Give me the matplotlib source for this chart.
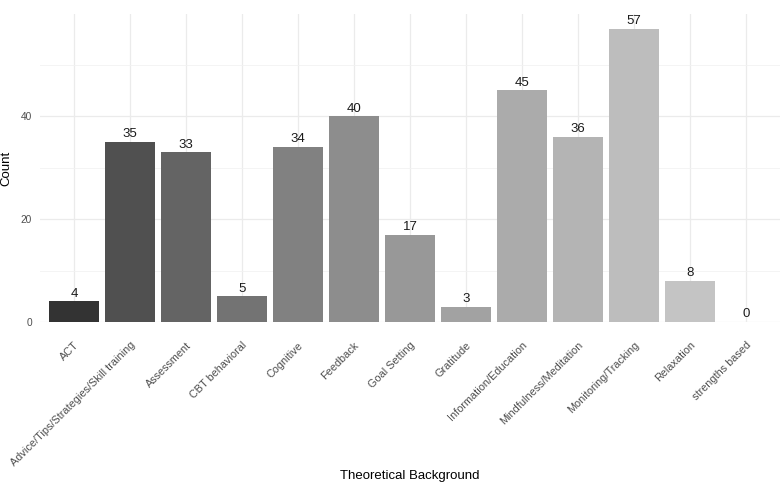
import numpy as np
import matplotlib.pyplot as plt
from matplotlib.transforms import ScaledTranslation

plt.rcParams['font.family'] = ['Liberation Sans', 'DejaVu Sans']

categories = ['ACT', 'Advice/Tips/Strategies/Skill training', 'Assessment', 'CBT behavioral',
              'Cognitive', 'Feedback', 'Goal Setting', 'Gratitude', 'Information/Education',
              'Mindfulness/Meditation', 'Monitoring/Tracking', 'Relaxation', 'strengths based']
counts = [4, 35, 33, 5, 34, 40, 17, 3, 45, 36, 57, 8, 0]

# grey scale like ggplot scale_fill_grey(start=0.2, end=0.8)
n = len(categories)
g = np.linspace(0.2 ** 2.2, 0.8 ** 2.2, n) ** (1 / 2.2)
colors = [(v, v, v) for v in g]

fig = plt.figure(figsize=(7.84, 4.9), dpi=100)
ax = fig.add_axes([40.4 / 784, 1 - 322 / 490, (779.6 - 40.4) / 784, (322 - 14) / 490])

x = np.arange(n)
ax.bar(x, counts, width=0.9, color=colors, zorder=2)
for xi, c in zip(x, counts):
    ax.text(xi, c + 0.3, str(c), ha='center', va='bottom', fontsize=9.5, color='#1a1a1a')

ax.set_xlim(-0.6, n - 0.4)
ax.set_ylim(0, 59.85)
ax.set_yticks([0, 20, 40])
ax.set_yticks([10, 30, 50], minor=True)
ax.set_xticks(x)
ax.set_xticklabels(categories, rotation=45, ha='right', rotation_mode='anchor',
                   fontsize=7.8, color='#4d4d4d')
shift = ScaledTranslation(4 / 100, 0, fig.dpi_scale_trans)
for lab in ax.get_xticklabels():
    lab.set_transform(lab.get_transform() + shift)
ax.tick_params(axis='y', labelsize=7.3, labelcolor='#4d4d4d', length=0, pad=6)
ax.tick_params(axis='y', which='minor', length=0)
ax.tick_params(axis='x', length=0, pad=13)
ax.grid(True, which='major', color='#ebebeb', linewidth=0.9, zorder=0)
ax.grid(True, which='minor', axis='y', color='#f2f2f2', linewidth=0.6, zorder=0)
for s in ax.spines.values():
    s.set_visible(False)

ax.set_xlabel('Theoretical Background', fontsize=9.5, color='black')
ax.set_ylabel('Count', fontsize=9.5, color='black')
ax.xaxis.set_label_coords(0.5, -0.48)
ax.yaxis.set_label_coords(-0.038, 0.5)

fig.savefig('out.png', dpi=100)
